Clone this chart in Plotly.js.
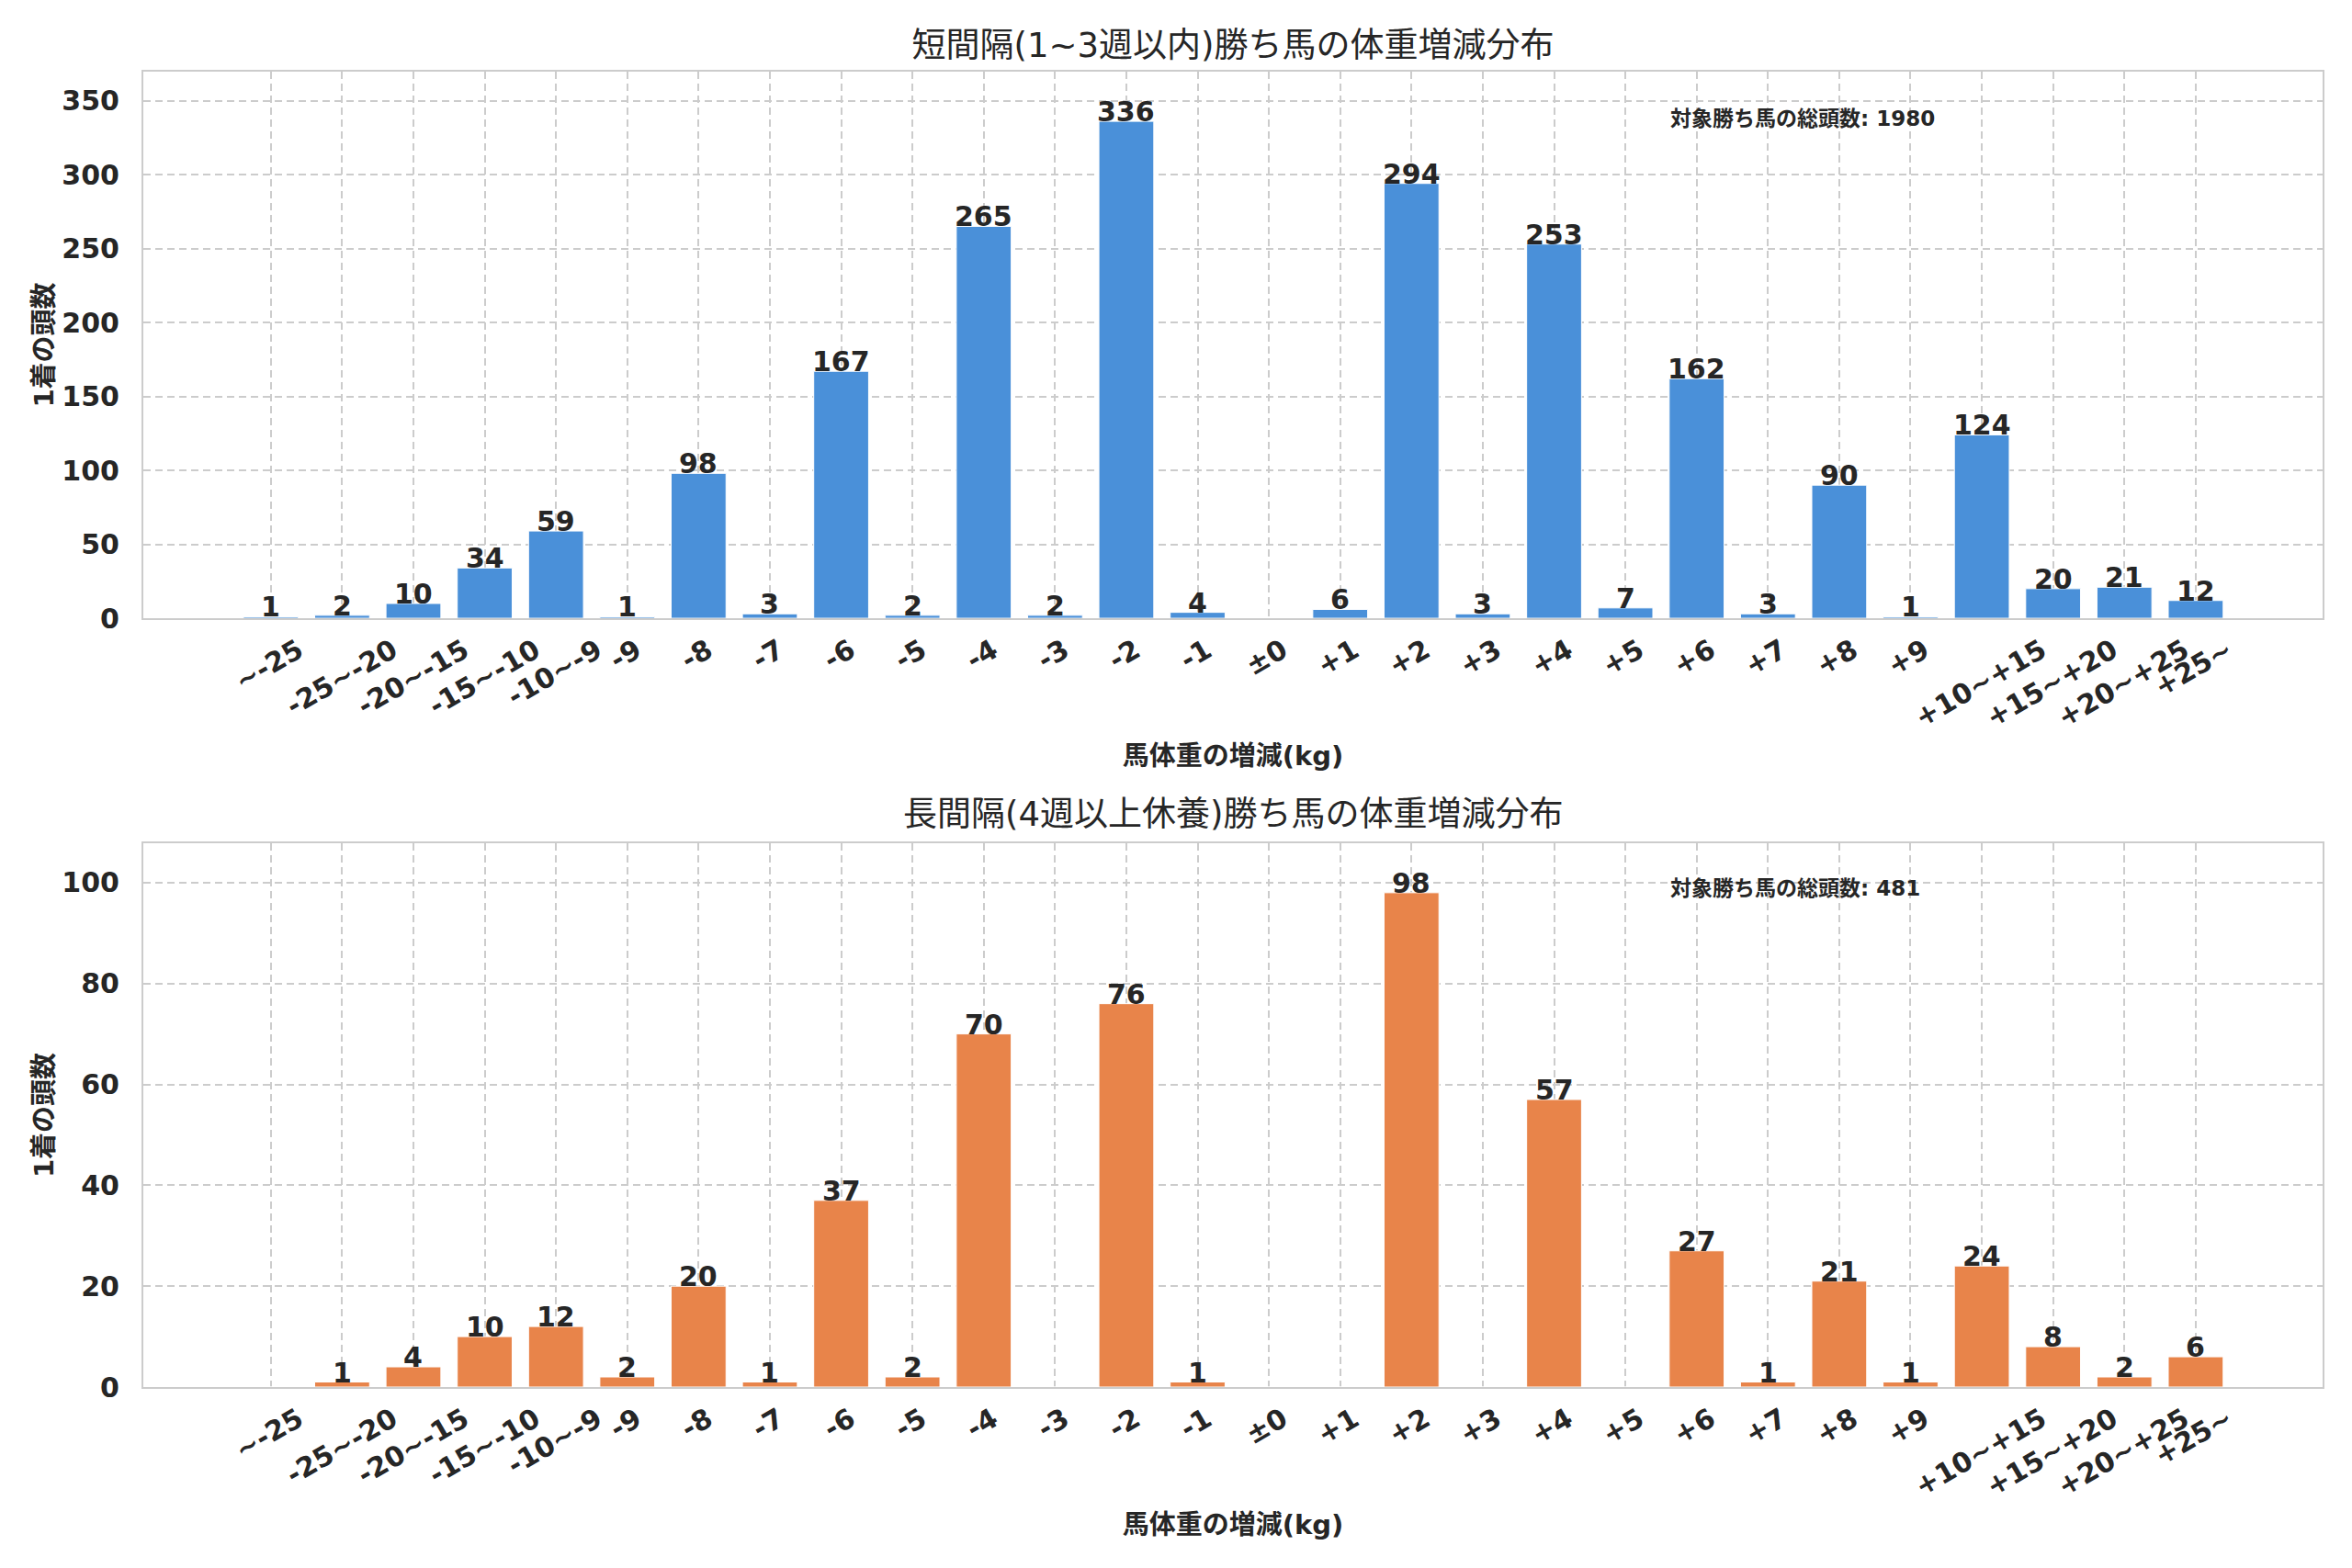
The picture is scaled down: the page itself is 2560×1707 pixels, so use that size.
<!DOCTYPE html>
<html>
<head>
<meta charset="utf-8">
<script src="https://cdn.plot.ly/plotly-3.0.1.min.js"></script>
<style>
  html, body { margin: 0; padding: 0; background: #ffffff; }
  #chart { width: 2560px; height: 1707px; }
</style>
</head>
<body>
<div id="chart"></div>
<script>
// ---- data ----
const categories = ['~-25','-25~-20','-20~-15','-15~-10','-10~-9','-9','-8','-7','-6','-5','-4','-3','-2','-1','±0','+1','+2','+3','+4','+5','+6','+7','+8','+9','+10~+15','+15~+20','+20~+25','+25~'];
const shortIntervalCounts = [1,2,10,34,59,1,98,3,167,2,265,2,336,4,0,6,294,3,253,7,162,3,90,1,124,20,21,12];
const longIntervalCounts  = [0,1,4,10,12,2,20,1,37,2,70,0,76,1,0,0,98,0,57,0,27,1,21,1,24,8,2,6];
const titleTop = '短間隔(1~3週以内)勝ち馬の体重増減分布';
const titleBottom = '長間隔(4週以上休養)勝ち馬の体重増減分布';
const xTitle = '馬体重の増減(kg)';
const yTitle = '1着の頭数';
const totalLabel = '対象勝ち馬の総頭数';

const FONT = 'DejaVu Sans, "Noto Sans CJK JP", sans-serif';
const TXT = '#262626';
const TICK_SIZE = 30;
const X_RANGE = [-1.79, 28.78];
const X_DOMAIN = [0.0609, 0.9875];
const sum = a => a.reduce((s, v) => s + v, 0);

function barTrace(vals, color, xa, ya) {
  return {
    type: 'bar', x: categories, y: vals, xaxis: xa, yaxis: ya,
    marker: { color: color, line: { color: '#ffffff', width: 1 } },
    width: 0.77,
    hoverinfo: 'x+y', showlegend: false
  };
}

// value labels above each non-zero bar, positioned through the axes
function valueLabels(vals, xa, ya) {
  const out = [];
  vals.forEach((v, i) => {
    if (v > 0) {
      out.push({ text: String(v), x: i, y: v, xref: xa, yref: ya,
        xanchor: 'center', yanchor: 'bottom', yshift: -8, showarrow: false, borderpad: 0,
        font: { family: FONT, size: 30, color: TXT, weight: 'bold' } });
    }
  });
  return out;
}

// rotated tick labels centred on their tick (matplotlib style):
// estimate each label's rotated half-width and group labels by the needed shift
const charW = { '-': 0.415, '+': 0.838, '~': 0.838, '±': 0.838 };
function neededShift(label) {
  let w = 0;
  for (const ch of label) w += (charW[ch] !== undefined ? charW[ch] : 0.696);
  w *= TICK_SIZE;
  const half = (w * Math.cos(Math.PI / 6) + TICK_SIZE * 0.5) / 2;
  return Math.round((half - 12) / 5) * 5;
}
const shiftGroups = {};
categories.forEach((c, i) => {
  const s = neededShift(c);
  (shiftGroups[s] = shiftGroups[s] || []).push(i);
});

const baseX = {
  type: 'category', range: X_RANGE, domain: X_DOMAIN,
  showgrid: true, gridcolor: '#cccccc', gridwidth: 2, griddash: '8px,5px',
  showline: true, linecolor: '#cccccc', linewidth: 2, mirror: true,
  ticks: '', zeroline: false, showticklabels: false,
  title: { text: xTitle, font: { family: FONT, size: 29, color: TXT, weight: 'bold' }, standoff: 139 }
};
const yCommon = {
  showgrid: true, gridcolor: '#cccccc', gridwidth: 2, griddash: '8px,5px',
  showline: true, linecolor: '#cccccc', linewidth: 2, mirror: true,
  ticks: '', zeroline: false, ticklabelstandoff: 18,
  tickfont: { family: FONT, size: TICK_SIZE, color: TXT, weight: 'bold' },
  title: { text: yTitle, font: { family: FONT, size: 29, color: TXT, weight: 'bold' }, standoff: 0 }
};

const layout = {
  width: 2560, height: 1707,
  margin: { l: 0, r: 0, t: 0, b: 0 },
  paper_bgcolor: '#ffffff', plot_bgcolor: '#ffffff',
  title: { text: titleTop, x: 0.5242, xanchor: 'center', xref: 'paper', y: 0.9713, yanchor: 'middle', yref: 'paper',
           font: { family: FONT, size: 37, color: TXT } },
  xaxis: Object.assign({}, baseX, { anchor: 'y' }),
  yaxis: Object.assign({}, yCommon, { anchor: 'x', domain: [0.6057, 0.9543],
           range: [0, Math.max(...shortIntervalCounts) * 1.1], dtick: 50 }),
  xaxis2: Object.assign({}, baseX, { anchor: 'y2' }),
  yaxis2: Object.assign({}, yCommon, { anchor: 'x2', domain: [0.1154, 0.4622],
           range: [0, Math.max(...longIntervalCounts) * 1.1], dtick: 20 }),
  annotations: [
    { text: titleBottom, xref: 'paper', yref: 'paper', x: 0.5242, y: 0.4804, xanchor: 'center', yanchor: 'middle',
      showarrow: false, font: { family: FONT, size: 37, color: TXT } },
    { text: totalLabel + ': ' + sum(shortIntervalCounts), xref: 'x domain', yref: 'y domain', x: 0.7, y: 0.914,
      xanchor: 'left', yanchor: 'middle', showarrow: false,
      font: { family: FONT, size: 23, color: TXT, weight: 'bold' } },
    { text: totalLabel + ': ' + sum(longIntervalCounts), xref: 'x2 domain', yref: 'y2 domain', x: 0.7, y: 0.917,
      xanchor: 'left', yanchor: 'middle', showarrow: false,
      font: { family: FONT, size: 23, color: TXT, weight: 'bold' } }
  ].concat(valueLabels(shortIntervalCounts, 'x', 'y'), valueLabels(longIntervalCounts, 'x2', 'y2'))
};

const traces = [
  barTrace(shortIntervalCounts, '#4A90D9', 'x', 'y'),
  barTrace(longIntervalCounts, '#E8844A', 'x2', 'y2')
];

// tick-label axes (overlaying the category axes), one per shift group;
// each gets an invisible helper trace so that Plotly draws it
let axisNum = 3;
[['x', 'y'], ['x2', 'y2']].forEach(([xa, ya]) => {
  Object.keys(shiftGroups).forEach(s => {
    const idx = shiftGroups[s];
    const name = 'x' + axisNum;
    layout['xaxis' + axisNum] = {
      overlaying: xa, anchor: ya, domain: X_DOMAIN, range: X_RANGE, type: 'linear',
      tickmode: 'array', tickvals: idx, ticktext: idx.map(i => categories[i]),
      showgrid: false, showline: false, zeroline: false, ticks: '',
      tickangle: -30, ticklabelshift: Number(s), ticklabelstandoff: 11,
      tickfont: { family: FONT, size: TICK_SIZE, color: TXT, weight: 'bold' }
    };
    traces.push({ type: 'scatter', mode: 'markers', x: idx, y: idx.map(() => 0), xaxis: name, yaxis: ya,
      marker: { size: 1, opacity: 0 }, hoverinfo: 'skip', showlegend: false });
    axisNum++;
  });
});

Plotly.newPlot('chart', traces, layout, { displayModeBar: false, staticPlot: true });
</script>
</body>
</html>
